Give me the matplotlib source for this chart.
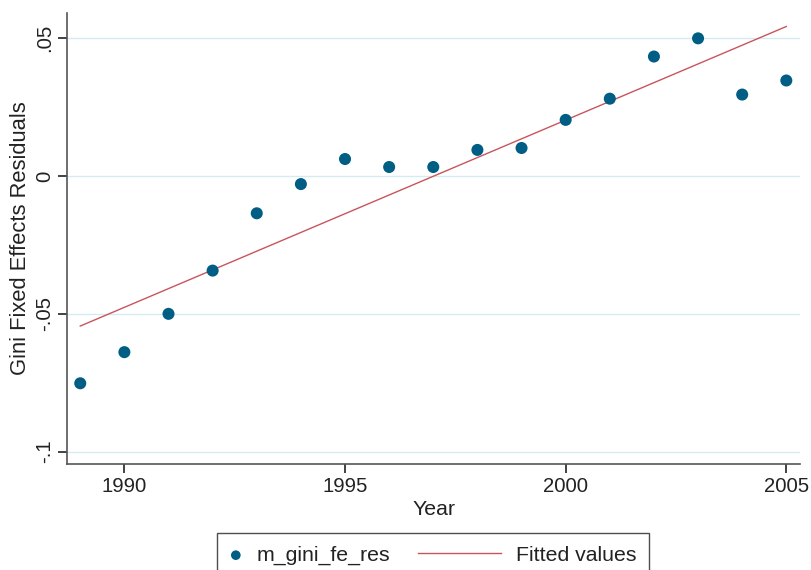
import matplotlib
matplotlib.use("Agg")
import matplotlib.pyplot as plt
import numpy as np
from matplotlib.legend_handler import HandlerBase
from matplotlib.lines import Line2D

# values
years = [1989, 1990, 1991, 1992, 1993, 1994, 1995, 1996, 1997,
         1998, 1999, 2000, 2001, 2002, 2003, 2004, 2005]
resid = [-0.0752, -0.0639, -0.0500, -0.0343, -0.0135, -0.0029, 0.0062,
         0.0033, 0.0033, 0.0095, 0.0102, 0.0204, 0.0281, 0.0434, 0.0500,
         0.0296, 0.0347]
x_ticks = [1990, 1995, 2000, 2005]
y_ticks = [-0.1, -0.05, 0, 0.05]
y_tick_labels = ["-.1", "-.05", "0", ".05"]

plt.rcParams["font.family"] = ["Liberation Sans", "DejaVu Sans"]

dot_color = "#005d84"
fit_color = "#c8555d"
grid_color = "#d6ebf1"
spine_color = "#555555"
text_color = "#222222"


class LongLineHandler(HandlerBase):
    """Legend line that reaches further left than the handle box (Stata look)."""

    def __init__(self, ext, **kw):
        super().__init__(**kw)
        self.ext = ext

    def create_artists(self, legend, orig_handle, xdescent, ydescent,
                       width, height, fontsize, trans):
        y = height / 2 - ydescent
        right = width - xdescent
        line = Line2D([right - self.ext * fontsize, right], [y, y],
                      color=orig_handle.get_color(), lw=orig_handle.get_linewidth())
        line.set_transform(trans)
        return [line]


fig = plt.figure(figsize=(8.11, 5.70), dpi=100)
ax = fig.add_axes([67 / 811, 1 - 464 / 570, (800 - 67) / 811, (464 - 13) / 570])

# linear fit, like Stata's lfit
slope, intercept = np.polyfit(years, resid, 1)
x_fit = np.array([years[0], years[-1]])
y_fit = slope * x_fit + intercept

pts = ax.scatter(years, resid, s=75, color=dot_color, zorder=3,
                 label="m_gini_fe_res", edgecolors="none")
fit_line, = ax.plot(x_fit, y_fit, color=fit_color, lw=1.0, zorder=2,
                    label="Fitted values")

ax.set_xlim(1988.70, 2005.31)
ax.set_ylim(-0.1045, 0.0592)
ax.set_xticks(x_ticks)
ax.set_yticks(y_ticks)
ax.set_yticklabels(y_tick_labels, rotation=90, va="center")

ax.grid(axis="y", color=grid_color, lw=1.0)
ax.set_axisbelow(True)
for side in ["top", "right"]:
    ax.spines[side].set_visible(False)
for side in ["left", "bottom"]:
    ax.spines[side].set_color(spine_color)
    ax.spines[side].set_linewidth(1.2)

ax.tick_params(axis="both", labelsize=14.6, length=6.5, width=1.2,
               color=text_color, labelcolor=text_color, pad=3)
ax.set_xlabel("Year", fontsize=15.3, color=text_color, labelpad=3)
ax.set_ylabel("Gini Fixed Effects Residuals", fontsize=15.8, color=text_color,
              labelpad=3)

leg = fig.legend([pts, fit_line], ["m_gini_fe_res", "Fitted values"],
                 loc="upper center", bbox_to_anchor=(433 / 811, 1 - 533 / 570),
                 ncol=2, fontsize=15.3, frameon=True, fancybox=False,
                 edgecolor=text_color, handlelength=0.6, handletextpad=0.7,
                 columnspacing=4.6, markerscale=0.8, borderpad=0.6,
                 borderaxespad=0.0, scatterpoints=1,
                 handler_map={Line2D: LongLineHandler(ext=3.9)})
leg.get_frame().set_linewidth(1.0)
# frame a touch narrower at the sides
leg._legend_box.sep = 0
for t in leg.get_texts():
    t.set_color(text_color)

plt.savefig("out.png", dpi=100)
